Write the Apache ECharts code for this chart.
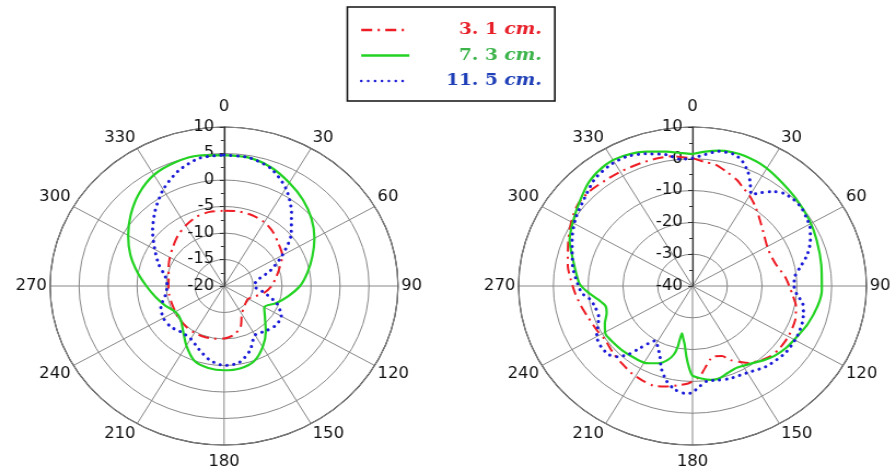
<!DOCTYPE html>
<html>
<head>
<meta charset="utf-8">
<script src="https://cdn.jsdelivr.net/npm/echarts@6.0.0/dist/echarts.min.js"></script>
<style>
  html, body { margin: 0; padding: 0; background: #fff; overflow: hidden; }
  #wrap { width: 895px; height: 472px; overflow: hidden; }
  /* the source figure is stretched sideways, so the whole chart is too */
  #chart { width: 818px; height: 472px; transform: scaleX(1.094); transform-origin: 0 0; }
</style>
</head>
<body>
<div id="wrap"><div id="chart"></div></div>
<script>
const seriesNames = ['3.1 cm.', '7.3 cm.', '11.5 cm.'];
const legendNumbers = ['3. 1 ', '7. 3 ', '11. 5 '];

// left pattern, every 10 degrees (dB)
const leftAngles = [0, 10, 20, 30, 40, 50, 60, 70, 80, 90, 100, 110, 120, 130, 140, 150, 160, 170, 180,
  190, 200, 210, 220, 230, 240, 250, 260, 270, 280, 290, 300, 310, 320, 330, 340, 350, 360];
const leftRed = [-5.8, -5.7, -5.8, -6.1, -6.8, -7.7, -8.4, -9.8, -10.9, -11.8, -12.9, -14.3, -15.2, -15.1,
  -14.7, -13.9, -11.7, -10.6, -10.1, -9.9, -9.8, -9.8, -9.9, -10.1, -10.3, -10.4, -10.4, -10.4, -10.3,
  -9.8, -9.2, -8.5, -7.6, -6.8, -6.1, -5.8, -5.8];
const leftGreen = [4.7, 4.6, 3.8, 2.5, 1.2, -0.3, -2.0, -3.8, -5.4, -6.9, -8.8, -10.5, -12.0, -10.8, -8.8,
  -6.7, -4.9, -4.2, -4.1, -4.3, -5.0, -7.0, -9.0, -10.2, -10.3, -9.2, -8.0, -6.6, -4.8, -2.8, -0.9, 1.0,
  2.8, 4.2, 4.8, 5.0, 4.7];
const leftBlue = [4.7, 4.6, 3.6, 1.3, -1.9, -4.9, -8.4, -11.5, -14.3, -14.8, -13.0, -10.3, -8.6, -8.4,
  -8.9, -9.3, -7.0, -5.3, -5.0, -5.8, -7.3, -8.5, -8.6, -8.0, -7.9, -8.4, -9.7, -10.2, -9.7, -8.0, -6.2,
  -3.9, -1.5, 1.0, 3.1, 4.5, 4.7];

// right pattern (dB)
const rightRedAngles = [0, 5, 10, 15, 21, 25, 30, 36, 43, 51, 62, 73, 84, 90, 96, 102, 110, 120, 129, 135,
  140, 146, 150, 155, 159, 165, 168, 172, 176, 182, 187, 194, 200, 206, 212, 220, 227, 236, 243, 252, 258,
  266, 273, 280, 292, 301, 308, 315, 323, 330, 339, 346, 352, 356, 360];
const rightRed = [0.2, -0.8, -1.3, -2.7, -4.3, -5.8, -7.2, -9.2, -11.6, -13.7, -15.4, -15.2, -13.2, -12.2,
  -11.0, -9.6, -8.6, -8.2, -8.2, -8.6, -9.5, -10.8, -12.4, -14.3, -16.4, -17.0, -16.2, -14.0, -11.4, -9.4,
  -8.6, -7.4, -6.7, -7.0, -7.4, -8.3, -8.9, -9.7, -9.2, -8.4, -7.5, -6.2, -5.0, -3.6, -1.5, 0.5, 1.8, 2.0,
  1.6, 1.5, 1.4, 1.4, 1.2, 0.6, 0.2];
const rightGreenAngles = [0, 5, 10, 15, 20, 28, 36, 47, 58, 68, 80, 92, 100, 110, 118, 126, 133, 139, 145,
  150, 155, 160, 165, 170, 175, 180, 182, 184.5, 187, 189.5, 191.5, 192.5, 194, 197, 202, 209, 216, 225,
  234, 239, 245, 251, 256, 261, 266, 271, 276, 283, 292, 301, 310, 318, 327, 334, 343, 350, 355, 360];
const rightGreen = [1.5, 2.4, 3.2, 3.6, 3.6, 3.0, 1.8, 0.5, -0.5, -1.5, -2.4, -2.8, -3.5, -4.8, -6.0, -6.8,
  -7.8, -9.0, -10.3, -11.0, -11.3, -10.8, -10.0, -10.0, -10.8, -11.8, -14.0, -17.7, -21.5, -23.5, -24.8,
  -20.5, -17.8, -15.7, -13.8, -12.3, -11.9, -11.4, -11.0, -10.8, -12.2, -13.9, -14.2, -12.6, -10.0, -7.6,
  -6.5, -4.8, -1.9, 0.0, 2.1, 4.3, 5.6, 5.5, 4.2, 2.9, 2.0, 1.5];
const rightBlueAngles = [0, 5, 10, 16, 20, 24, 27, 30.5, 34, 38, 42, 47, 52, 57, 61, 67, 73, 79, 84, 90, 95,
  100, 105, 110, 118, 128, 140, 150, 160, 166, 172, 176, 181, 184, 189, 194, 199, 203, 208, 212, 215, 218,
  220.5, 224, 228, 234, 240, 245, 250, 257, 262, 266, 273, 280, 293, 302, 311, 320, 328, 335, 342, 350,
  355, 360];
const rightBlue = [0.2, 1.5, 3.0, 3.1, 1.8, -0.8, -3.5, -6.6, -4.6, -2.3, -0.8, -0.2, -0.2, -0.9, -1.4,
  -3.2, -5.4, -8.4, -10.4, -10.8, -9.9, -7.8, -7.0, -6.4, -6.0, -6.0, -7.0, -8.5, -9.0, -9.5, -9.8, -8.5,
  -6.3, -6.2, -7.1, -9.2, -12.5, -16.0, -18.6, -19.7, -18.0, -15.0, -11.8, -9.1, -7.7, -7.5, -8.2, -10.0,
  -11.3, -11.2, -10.2, -8.1, -6.6, -5.0, -2.4, -0.3, 1.4, 3.8, 4.8, 4.9, 3.7, 1.9, 0.0, 0.2];

const lineColors = ['#ee1c24', '#22d322', '#1c1cd8'];
const textColors = ['#e8202a', '#3cb44b', '#2040b8'];
const lineStyles = [
  { color: lineColors[0], width: 2, type: [10, 5, 2, 5] },
  { color: lineColors[1], width: 2.2, type: 'solid' },
  { color: lineColors[2], width: 3, type: [0.1, 6.2], cap: 'round' }
];

const labelFont = { fontSize: 15, fontFamily: 'DejaVu Sans', color: '#111' };

function angleAxis(polarIndex) {
  return {
    polarIndex: polarIndex,
    type: 'value',
    min: 0,
    max: 360,
    interval: 30,
    startAngle: 90,
    clockwise: true,
    axisLine: { lineStyle: { color: '#222', width: 1.2 } },
    axisTick: { show: false },
    axisLabel: Object.assign({}, labelFont, {
      margin: 3,
      formatter: function (v) {
        if (v === 360) return '';
        if (v === 0) return '{t|0}';
        if (v === 180) return '{b|180}';
        return String(v);
      },
      rich: {
        t: Object.assign({}, labelFont, { padding: [0, 0, 9, 0] }),
        b: Object.assign({}, labelFont, { padding: [7, 0, 0, 0] })
      }
    }),
    splitLine: { lineStyle: { color: '#888', width: 1 } }
  };
}

function radiusAxis(polarIndex, min, max, step) {
  return {
    polarIndex: polarIndex,
    type: 'value',
    min: min,
    max: max,
    interval: step,
    axisLine: { lineStyle: { color: '#333', width: 1.2 } },
    axisTick: { length: 4, lineStyle: { color: '#333' } },
    minorTick: { show: true, splitNumber: 2, length: 3, lineStyle: { color: '#333' } },
    axisLabel: Object.assign({}, labelFont, { margin: 9, align: 'right', verticalAlign: 'middle' }),
    splitLine: { lineStyle: { color: '#888', width: 1 } },
    z: 5
  };
}

function pattern(idx, polarIndex, angles, values) {
  return {
    name: seriesNames[idx],
    type: 'line',
    coordinateSystem: 'polar',
    polarIndex: polarIndex,
    symbol: 'none',
    smooth: 0.25,
    lineStyle: lineStyles[idx],
    itemStyle: { color: lineColors[idx] },
    data: angles.map(function (a, i) { return [values[i], a]; }),
    z: 10 + idx
  };
}

const chart = echarts.init(document.getElementById('chart'));
chart.setOption({
  animation: false,
  backgroundColor: '#fff',
  polar: [
    { center: [204.8, 286], radius: 159 },
    { center: [633, 286], radius: 159 }
  ],
  angleAxis: [angleAxis(0), angleAxis(1)],
  radiusAxis: [radiusAxis(0, -20, 10, 5), radiusAxis(1, -40, 10, 10)],
  legend: {
    orient: 'vertical',
    left: 317.5,
    top: 7,
    padding: [13, 12, 10, 11.5],
    borderColor: '#111',
    borderWidth: 1.6,
    itemWidth: 44,
    itemHeight: 14,
    itemGap: 5.5,
    selectedMode: false,
    // only the line sample, no marker in the middle
    itemStyle: { opacity: 0, borderWidth: 0 },
    lineStyle: { width: 2.4 },
    data: seriesNames.map(function (n, i) { return { name: n, textStyle: { color: textColors[i] } }; }),
    formatter: function (name) {
      const i = seriesNames.indexOf(name);
      return '{n|' + legendNumbers[i] + '}{u|cm.}';
    },
    textStyle: {
      width: 116,
      fontSize: 17,
      fontFamily: 'DejaVu Serif',
      fontWeight: 'bold',
      lineHeight: 20,
      rich: {
        n: { fontSize: 17, fontFamily: 'DejaVu Serif', fontWeight: 'bold', align: 'right' },
        u: { fontSize: 17, fontFamily: 'DejaVu Serif', fontWeight: 'bold', fontStyle: 'italic', align: 'right' }
      }
    }
  },
  series: [
    pattern(0, 0, leftAngles, leftRed),
    pattern(1, 0, leftAngles, leftGreen),
    pattern(2, 0, leftAngles, leftBlue),
    pattern(0, 1, rightRedAngles, rightRed),
    pattern(1, 1, rightGreenAngles, rightGreen),
    pattern(2, 1, rightBlueAngles, rightBlue)
  ]
});
</script>
</body>
</html>
